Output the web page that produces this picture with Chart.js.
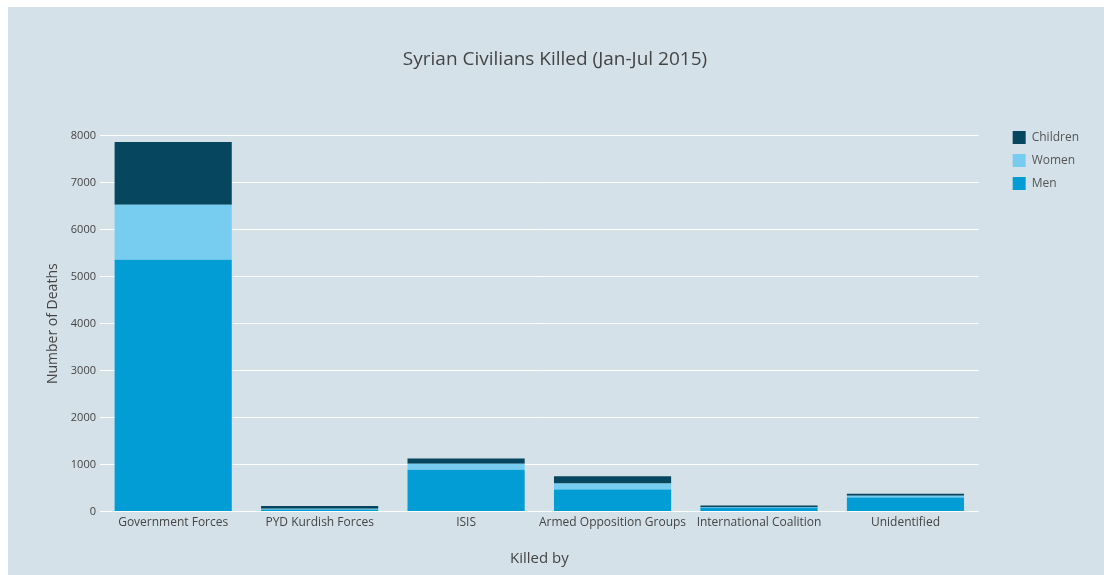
<!DOCTYPE html>
<html>
<head>
<meta charset="utf-8">
<script src="https://cdn.jsdelivr.net/npm/chart.js@4"></script>
<style>
  html, body { margin: 0; padding: 0; background: #ffffff; }
  #wrap { position: absolute; left: 8px; top: 7px; width: 1096px; height: 568px; background: #d5e1e9; }
</style>
</head>
<body>
<div id="wrap"><canvas id="deathsChart" width="1096" height="568"></canvas></div>
<script>
// categories and series
const categories = ['Government Forces', 'PYD Kurdish Forces', 'ISIS', 'Armed Opposition Groups', 'International Coalition', 'Unidentified'];
const men      = [5360, 45, 890, 470, 80, 300];
const women    = [1170, 15, 130, 130, 10, 40];
const children = [1340, 60, 110, 150, 40, 40];

// nudge the legend over to the right and down level with the top gridline
const legendShift = {
  id: 'legendShift',
  afterLayout(chart) {
    const lg = chart.legend;
    lg.left += 24; lg.right += 24;
    lg.top += 114; lg.bottom += 114;
  }
};

const ctx = document.getElementById('deathsChart').getContext('2d');

new Chart(ctx, {
  type: 'bar',
  data: {
    labels: categories,
    datasets: [
      { label: 'Men', data: men, backgroundColor: '#039dd6' },
      { label: 'Women', data: women, backgroundColor: '#76cdf0' },
      { label: 'Children', data: children, backgroundColor: '#07465f' }
    ]
  },
  options: {
    responsive: false,
    animation: false,
    layout: { padding: { left: 37, right: 39, bottom: 7 } },
    datasets: { bar: { categoryPercentage: 1, barPercentage: 0.8 } },
    plugins: {
      title: {
        display: true,
        text: 'Syrian Civilians Killed (Jan-Jul 2015)',
        color: '#444',
        font: { family: 'Open Sans', size: 19, weight: 'normal' },
        padding: { top: 41, bottom: 65 }
      },
      legend: {
        position: 'right',
        align: 'start',
        reverse: true,
        labels: {
          boxWidth: 13,
          boxHeight: 13,
          color: '#555',
          font: { family: 'Open Sans', size: 12 },
          padding: 10
        }
      },
      tooltip: { enabled: false }
    },
    scales: {
      x: {
        stacked: true,
        grid: { display: false, drawTicks: false },
        border: { display: false },
        ticks: { color: '#444', font: { family: 'Open Sans', size: 12 }, padding: 4, maxRotation: 0, autoSkip: false },
        title: { display: true, text: 'Killed by', color: '#444', font: { family: 'Open Sans', size: 15 }, padding: { top: 16, bottom: 0 } }
      },
      y: {
        stacked: true,
        min: 0,
        max: 8000,
        grid: { color: '#ffffff', lineWidth: 1, drawTicks: false },
        border: { display: false },
        ticks: { stepSize: 1000, format: { useGrouping: false }, color: '#444', font: { family: 'Open Sans', size: 11 }, padding: 4 },
        title: { display: true, text: 'Number of Deaths', color: '#444', font: { family: 'Open Sans', size: 14 }, padding: { top: 0, bottom: 5 } }
      }
    }
  },
  plugins: [legendShift]
});
</script>
</body>
</html>
